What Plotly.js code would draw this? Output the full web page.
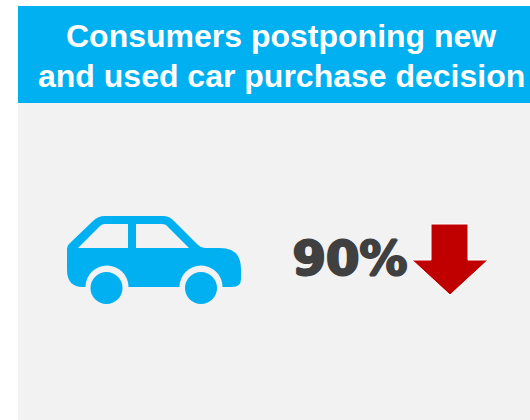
<!DOCTYPE html>
<html>
<head>
<meta charset="utf-8">
<script src="https://cdn.plot.ly/plotly-3.0.1.min.js"></script>
<style>html,body{margin:0;padding:0;background:#fff;overflow:hidden}#chart{width:530px;height:420px}</style>
</head>
<body>
<div id="chart"></div>
<script>
var titleLines = ["Consumers postponing new", "and used car purchase decision"];
var metricValues = [90];
var metricSuffix = "%";

var BLUE = "#00B0F0", PANEL = "#F2F2F2", RED = "#C00000", DARK = "#404040";

function fillShape(path, color, line) {
  return {type: "path", xref: "x", yref: "y", path: path, fillcolor: color,
          line: line || {width: 0}, layer: "below"};
}
function circle(cx, cy, r, color) {
  return {type: "circle", xref: "x", yref: "y", x0: cx - r, x1: cx + r, y0: cy - r, y1: cy + r,
          fillcolor: color, line: {width: 0}, layer: "below"};
}

var shapes = [
  {type: "rect", xref: "x", yref: "y", x0: 18, x1: 530, y0: 103, y1: 420, fillcolor: PANEL, line: {width: 0}, layer: "below"},
  {type: "rect", xref: "x", yref: "y", x0: 18, x1: 530, y0: 6, y1: 103, fillcolor: BLUE, line: {width: 0}, layer: "below"},
  // car body
  fillShape("M 67 249 Q 67 246 69 244 L 93 221 Q 98 216 105 216 L 163 216 Q 169 216 173 220 L 198 245 Q 201 248 205 248 L 220 248 Q 241 248 241 269 L 241 279 Q 241 287 232 287 L 83 287 Q 67 287 67 270 Z", BLUE),
  // windows
  fillShape("M 78 248 L 100 226 Q 102 224 105 224 L 128 224 L 128 248 Z", PANEL),
  fillShape("M 136 224 L 162 224 Q 166 224 168 227 L 189 248 L 136 248 Z", PANEL),
  // wheel wells and wheels
  circle(107, 287, 21.5, PANEL),
  circle(201, 287, 21.5, PANEL),
  circle(106.5, 288, 16, BLUE),
  circle(201, 288, 16, BLUE),
  // arrow
  fillShape("M 431 224 L 468 224 L 468 260 L 488 260 L 450 295 L 412 260 L 431 260 Z", RED, {width: 1, color: "#FFFFFF"})
];

var boldShadow = "1.2px 0 0 " + DARK + ", -1.2px 0 0 " + DARK + ", 0 0.8px 0 " + DARK + ", 0 -0.8px 0 " + DARK;

var data = [{
  type: "scatter",
  mode: "text",
  x: [350],
  y: [263],
  text: metricValues.map(function (v) { return v + metricSuffix; }),
  textposition: "middle center",
  textfont: {family: "DejaVu Sans, Liberation Sans, sans-serif", size: 48, color: DARK, weight: 700, shadow: boldShadow},
  hoverinfo: "skip",
  showlegend: false
}];

var titleCentres = [36, 76];
var annotations = titleLines.map(function (line, i) {
  return {
    text: line, xref: "x", yref: "y", x: 281, y: titleCentres[i], xanchor: "center", yanchor: "middle",
    showarrow: false,
    font: {family: "Liberation Sans, Arial, sans-serif", size: 32, color: "#FFFFFF", weight: 700}
  };
});

var layout = {
  width: 530,
  height: 420,
  margin: {l: 0, r: 0, t: 0, b: 0},
  paper_bgcolor: "#FFFFFF",
  plot_bgcolor: "rgba(0,0,0,0)",
  showlegend: false,
  xaxis: {range: [0, 530], visible: false, fixedrange: true},
  yaxis: {range: [420, 0], visible: false, fixedrange: true},
  shapes: shapes,
  annotations: annotations
};

Plotly.newPlot("chart", data, layout, {displayModeBar: false, staticPlot: true});
</script>
</body>
</html>
